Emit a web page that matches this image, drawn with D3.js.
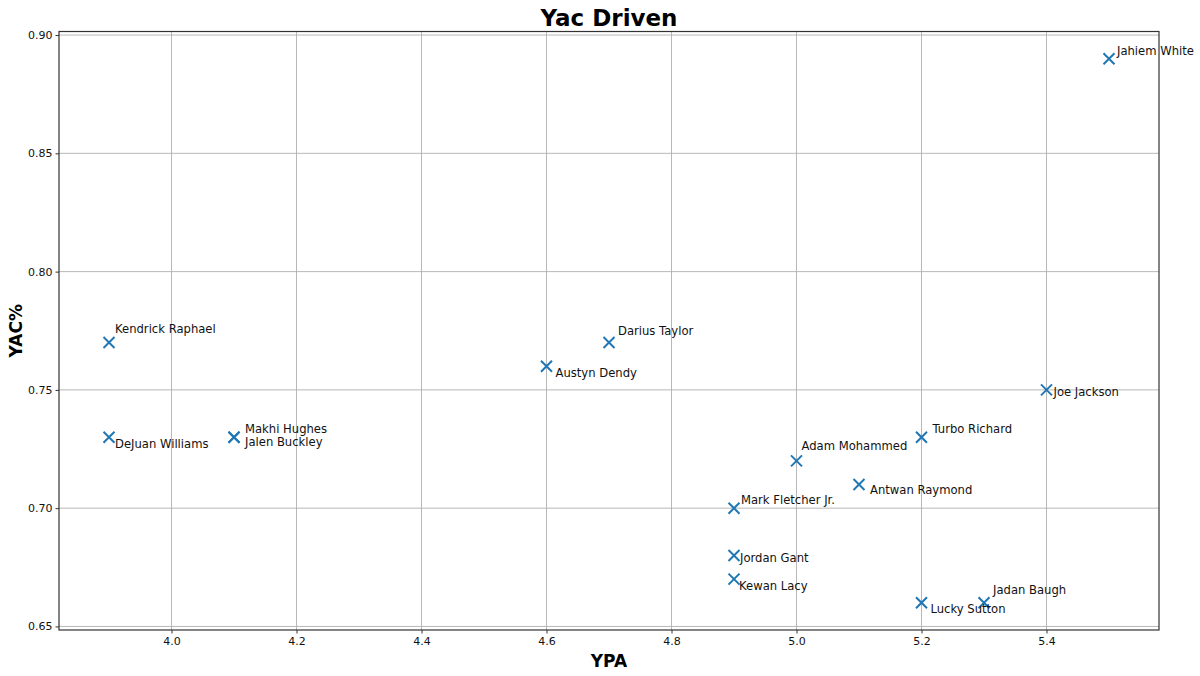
<!DOCTYPE html>
<html>
<head>
<meta charset="utf-8">
<script src="https://cdn.jsdelivr.net/npm/d3@7"></script>
<style>
  body { margin: 0; background: #fff; }
  svg { font-family: "DejaVu Sans", sans-serif; }
</style>
</head>
<body>
<div class="chartHolder"></div>
<script>
// data
var players = ["Kendrick Raphael", "DeJuan Williams", "Makhi Hughes", "Jalen Buckley", "Austyn Dendy",
  "Darius Taylor", "Adam Mohammed", "Turbo Richard", "Antwan Raymond", "Mark Fletcher Jr.",
  "Jordan Gant", "Kewan Lacy", "Lucky Sutton", "Jadan Baugh", "Joe Jackson", "Jahiem White"];
var ypa = [3.9, 3.9, 4.1, 4.1, 4.6, 4.7, 5.0, 5.2, 5.1, 4.9, 4.9, 4.9, 5.2, 5.3, 5.4, 5.5];
var yacPct = [0.77, 0.73, 0.73, 0.73, 0.76, 0.77, 0.72, 0.73, 0.71, 0.70, 0.68, 0.67, 0.66, 0.66, 0.75, 0.89];
var xTicks = [4.0, 4.2, 4.4, 4.6, 4.8, 5.0, 5.2, 5.4];
var yTicks = [0.65, 0.70, 0.75, 0.80, 0.85, 0.90];

// label nudges (px, to the text baseline), roughly how the text was pushed apart in the original
var labelDx = [6, 6, 11, 11, 9, 9, 5, 11, 11, 7, 6, 5, 9, 9, 7, 8];
var labelDy = [-10, 11, -4, 9, 11, -8, -11, -4, 9, -4, 7, 11, 10, -9, 6, -4];

var svgW = 1200, svgH = 676;
var margin = { top: 31.5, right: 41, bottom: 46, left: 59 },
    w = svgW - margin.left - margin.right,
    h = svgH - margin.top - margin.bottom;

var svg = d3.select(".chartHolder").append("svg").attr("width", svgW).attr("height", svgH);
var g = svg.append("g").attr("transform", "translate(" + margin.left + "," + margin.top + ")");

// matplotlib-style 5% padding on both axes
var xExt = d3.extent(ypa), yExt = d3.extent(yacPct);
var xPad = (xExt[1] - xExt[0]) * 0.05, yPad = (yExt[1] - yExt[0]) * 0.05;
var xScale = d3.scaleLinear().domain([xExt[0] - xPad, xExt[1] + xPad]).range([0, w]);
var yScale = d3.scaleLinear().domain([yExt[0] - yPad, yExt[1] + yPad]).range([h, 0]);

// grid
g.append("g").selectAll("line").data(xTicks).enter().append("line")
  .attr("x1", function (d) { return xScale(d); }).attr("x2", function (d) { return xScale(d); })
  .attr("y1", 0).attr("y2", h)
  .attr("stroke", "#b0b0b0").attr("stroke-width", 0.9);
g.append("g").selectAll("line").data(yTicks).enter().append("line")
  .attr("y1", function (d) { return yScale(d); }).attr("y2", function (d) { return yScale(d); })
  .attr("x1", 0).attr("x2", w)
  .attr("stroke", "#b0b0b0").attr("stroke-width", 0.9);

// axes
var xAxis = d3.axisBottom(xScale).tickValues(xTicks).tickFormat(d3.format(".1f")).tickSize(3.5).tickPadding(4);
var yAxis = d3.axisLeft(yScale).tickValues(yTicks).tickFormat(d3.format(".2f")).tickSize(3.5).tickPadding(3);

var gx = g.append("g").attr("transform", "translate(0," + h + ")").call(xAxis);
var gy = g.append("g").call(yAxis);
[gx, gy].forEach(function (a) {
  a.select(".domain").remove();
  a.selectAll("text").attr("font-size", 11).attr("fill", "#111").attr("font-family", "DejaVu Sans");
  a.selectAll("line").attr("stroke", "#333");
});

// frame
g.append("rect").attr("width", w).attr("height", h)
  .attr("fill", "none").attr("stroke", "#333").attr("stroke-width", 1.2);

// x markers
var ms = 5.5;
var pts = g.append("g").selectAll("g").data(players).enter().append("g")
  .attr("transform", function (d, i) { return "translate(" + xScale(ypa[i]) + "," + yScale(yacPct[i]) + ")"; });
pts.append("path")
  .attr("d", "M" + (-ms) + "," + (-ms) + "L" + ms + "," + ms + "M" + (-ms) + "," + ms + "L" + ms + "," + (-ms))
  .attr("stroke", "#1f77b4").attr("stroke-width", 2).attr("fill", "none");

// labels
g.append("g").selectAll("text").data(players).enter().append("text")
  .attr("x", function (d, i) { return xScale(ypa[i]) + labelDx[i]; })
  .attr("y", function (d, i) { return yScale(yacPct[i]) + labelDy[i]; })
  .attr("font-size", 11.6).attr("fill", "#111")
  .text(function (d) { return d; });

// titles
svg.append("text").attr("x", margin.left + w / 2).attr("y", 26)
  .attr("text-anchor", "middle").attr("font-size", 23).attr("font-weight", "bold")
  .text("Yac Driven");
svg.append("text").attr("x", margin.left + w / 2).attr("y", 667)
  .attr("text-anchor", "middle").attr("font-size", 17).attr("font-weight", "bold")
  .text("YPA");
svg.append("text").attr("transform", "translate(22," + (margin.top + h / 2) + ") rotate(-90)")
  .attr("text-anchor", "middle").attr("font-size", 17).attr("font-weight", "bold")
  .text("YAC%");
</script>
</body>
</html>
